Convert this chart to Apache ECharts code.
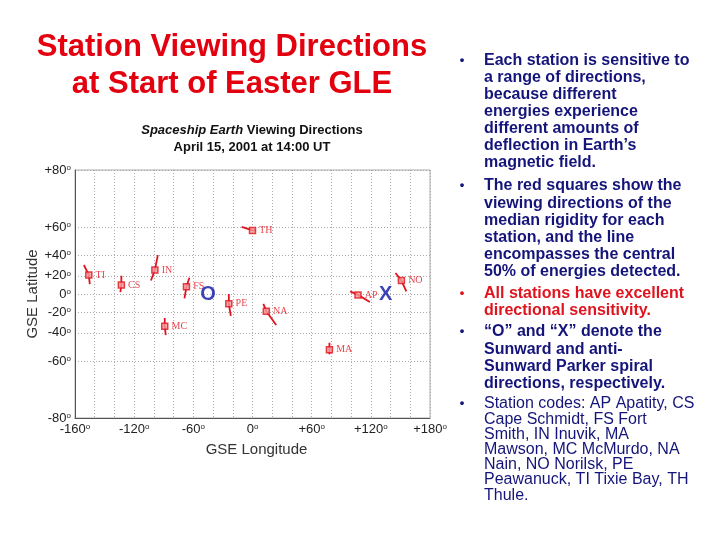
<!DOCTYPE html>
<html>
<head>
<meta charset="utf-8">
<script src="https://cdn.jsdelivr.net/npm/echarts@6/dist/echarts.min.js"></script>
<style>html,body{margin:0;background:#fff}#chart{width:720px;height:540px}</style>
</head>
<body>
<div id="chart"></div>
<script>
// station viewing directions (GSE lon / lat, degrees)
const stationCodes = ['TI', 'CS', 'IN', 'FS', 'PE', 'NA', 'MC', 'MA', 'AP', 'NO', 'TH']
const medianLon = [-166, -133, -99, -67, -24, 14, -89, 78, 107, 151, 0]
const medianLat = [21, 10, 26, 8, -11, -19, -34, -53, -1, 15, 58]
const startLon = [-171, -133, -96, -64, -24, 11, -89, 78, 99, 145, -11]
const startLat = [31, 20, 40, 18, 0, -11, -26, -48, 3, 23, 60]
const endLon = [-165, -134, -103, -69, -22, 24, -88, 78, 119, 156, 3]
const endLat = [11, 2, 15, -5, -24, -33, -42, -56, -9, 3, 58]

// sunward / anti-sunward Parker spiral directions
const spiralText = ['O', 'X']
const spiralLon = [-45, 135]
const spiralLat = [0, 0]

const lonTickVals = [-180, -120, -60, 0, 60, 120, 180]
const lonTickLabels = ['-160', '-120', '-60', '0', '+60', '+120', '+180']
const latTickVals = [-80, -60, -40, -20, 0, 20, 40, 60, 80]
const latTickLabels = ['-80', '-60', '-40', '-20', '0', '+20', '+40', '+60', '+80']

// the plot uses a mercator latitude scale
const merc = lat => Math.log(Math.tan(Math.PI / 4 + lat * Math.PI / 360))
const latMerc = latTickVals.map(merc)

const red = '#e0141e'
const navy = '#14147a'

var myChart = echarts.init(document.getElementById('chart'))

const stationLines = stationCodes.map((c, i) => ({
    type: 'line',
    data: [[startLon[i], merc(startLat[i])], [medianLon[i], merc(medianLat[i])], [endLon[i], merc(endLat[i])]],
    showSymbol: false,
    symbol: 'none',
    lineStyle: { color: red, width: 1.8 },
    z: 3
}))

const degRich = {
    v: { fontSize: 13, color: '#222', fontFamily: 'Liberation Sans' },
    d: { fontSize: 8, color: '#222', verticalAlign: 'top', fontFamily: 'Liberation Sans' }
}

const bullets = [
    { y: 60, lh: 17, bold: true, color: navy, text: 'Each station is sensitive to\na range of directions,\nbecause different\nenergies experience\ndifferent amounts of\ndeflection in Earth\u2019s\nmagnetic field.' },
    { y: 185, lh: 17.2, bold: true, color: navy, text: 'The red squares show the\nviewing directions of the\nmedian rigidity for each\nstation, and the line\nencompasses the central\n50% of energies detected.' },
    { y: 293, lh: 17, bold: true, color: red, text: 'All stations have excellent\ndirectional sensitivity.' },
    { y: 331, lh: 17.3, bold: true, color: navy, text: '\u201cO\u201d and \u201cX\u201d denote the\nSunward and anti-\nSunward Parker spiral\ndirections, respectively.' },
    { y: 403, lh: 15.2, bold: false, color: navy, text: 'Station codes: AP Apatity, CS\nCape Schmidt, FS Fort\nSmith, IN Inuvik, MA\nMawson, MC McMurdo, NA\nNain, NO Norilsk, PE\nPeawanuck, TI Tixie Bay, TH\nThule.' }
]

const graphics = []
graphics.push({
    type: 'text',
    style: {
        x: 232, y: 45, text: 'Station Viewing Directions\nat Start of Easter GLE',
        align: 'center', verticalAlign: 'top', lineHeight: 37,
        font: 'bold 31px "Liberation Sans", Arial', fill: '#e3000f'
    },
    y: -16.5
})
bullets.forEach(b => {
    graphics.push({
        type: 'text',
        style: {
            x: 462, y: b.y, text: '\u2022', align: 'center', verticalAlign: 'middle',
            font: 'bold 13px "Liberation Sans", Arial', fill: b.color
        }
    })
    graphics.push({
        type: 'text',
        style: {
            x: 484, y: b.y - b.lh / 2 + 1, text: b.text, verticalAlign: 'top', lineHeight: b.lh,
            font: (b.bold ? 'bold ' : '') + '16px "Liberation Sans", Arial', fill: b.color
        }
    })
})
graphics.push({
    type: 'text',
    style: {
        x: 252, y: 139,
        text: '{i|Spaceship Earth}{b| Viewing Directions}\n{b|April 15, 2001 at 14:00 UT}',
        align: 'center', verticalAlign: 'middle', lineHeight: 17,
        rich: {
            i: { fontSize: 13, fontWeight: 'bold', fontStyle: 'italic', fontFamily: 'Liberation Sans', fill: '#111', lineHeight: 17 },
            b: { fontSize: 13, fontWeight: 'bold', fontFamily: 'Liberation Sans', fill: '#111', lineHeight: 17 }
        }
    }
})

const option = {
    animation: false,
    grid: { left: 75, right: 290, top: 170, bottom: 122, show: true, borderColor: '#aaa', borderWidth: 1 },
    xAxis: {
        type: 'value', min: -180, max: 180, interval: 20,
        name: 'GSE Longitude', nameLocation: 'middle', nameGap: 24,
        nameTextStyle: { fontSize: 15, color: '#333', fontFamily: 'Liberation Sans', padding: [0, 0, 0, 8] },
        axisLine: { show: true, onZero: false, lineStyle: { color: '#555' } },
        axisTick: { show: false },
        axisLabel: {
            customValues: lonTickVals, margin: 5,
            formatter: v => '{v|' + lonTickLabels[lonTickVals.indexOf(v)] + '}{d|o}',
            rich: degRich
        },
        splitLine: { show: true, lineStyle: { color: '#aaa', type: [1, 2] } }
    },
    yAxis: {
        type: 'value', min: merc(-80), max: merc(80),
        name: 'GSE Latitude', nameLocation: 'middle', nameGap: 35, nameRotate: 90,
        nameTextStyle: { fontSize: 15, color: '#333', fontFamily: 'Liberation Sans' },
        axisLine: { show: true, onZero: false, lineStyle: { color: '#555' } },
        axisTick: { show: false, customValues: latMerc },
        axisLabel: {
            customValues: latMerc, margin: 4,
            formatter: v => {
                let i = latMerc.findIndex(m => Math.abs(m - v) < 1e-6)
                return '{v|' + latTickLabels[i] + '}{d|o}'
            },
            rich: degRich
        },
        splitLine: { show: true, lineStyle: { color: '#aaa', type: [1, 2] } }
    },
    series: [
        ...stationLines,
        {
            type: 'scatter',
            data: stationCodes.map((c, i) => [medianLon[i], merc(medianLat[i]), c]),
            symbol: 'rect', symbolSize: 6,
            itemStyle: { color: '#f39a9a', borderColor: red, borderWidth: 1.5 },
            label: {
                show: true, position: 'right', distance: 3,
                formatter: p => p.data[2],
                color: red, fontSize: 10, fontFamily: 'Liberation Serif'
            },
            z: 4
        },
        {
            type: 'scatter',
            data: spiralText.map((t, i) => [spiralLon[i], merc(spiralLat[i]), t]),
            symbolSize: 1,
            itemStyle: { color: 'rgba(0,0,0,0)' },
            label: {
                show: true, position: 'inside',
                formatter: p => p.data[2],
                color: '#0a14a8', fontSize: 20, fontWeight: 'bold', fontFamily: 'Liberation Sans'
            },
            z: 5
        }
    ],
    graphic: graphics
}
myChart.setOption(option)
</script>
</body>
</html>
